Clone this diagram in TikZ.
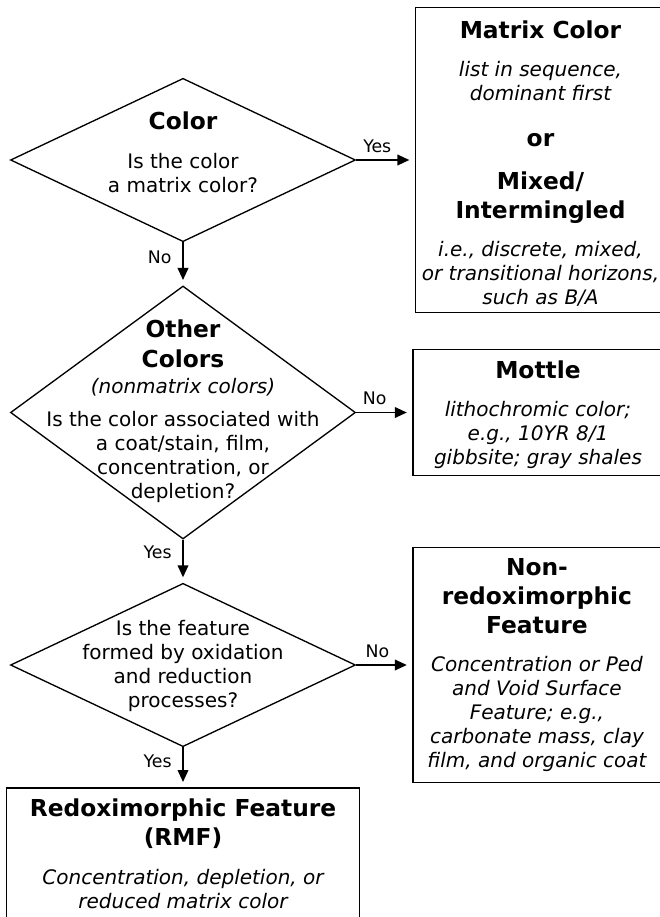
\documentclass[tikz,border=0pt]{standalone}
\usepackage{fontspec}
\setmainfont{DejaVu Sans}
\usepackage{tikz}
\usetikzlibrary{shapes,arrows.meta,positioning}
\newcommand{\bodyfont}{\fontsize{15}{18}\selectfont}
\newcommand{\headfont}{\fontsize{17.5}{22}\selectfont\bfseries}
\newcommand{\topgap}[1]{\rule{0pt}{#1}}
\newcommand{\botgap}[1]{\rule[-#1]{0pt}{#1}}
\tikzstyle{decision} = [diamond, draw=black, line width=1pt, inner sep=0pt, minimum width=258.75pt, minimum height=122.5pt]
\tikzstyle{question} = [align=center, inner sep=0pt, font=\bodyfont]
\tikzstyle{answer} = [rectangle, draw=black, line width=1.2pt, align=center, inner sep=0pt, minimum width=187.5pt, font=\bodyfont]
\tikzstyle{tedge}  = [draw, line width=1.2pt, >={Triangle[length=9pt,width=8pt]}, ->, shorten >=4pt]
\tikzstyle{yesno} = [font=\fontsize{13}{15}\selectfont, inner sep=2pt]

\begin{document}
\begin{tikzpicture}
\useasboundingbox (0,0) rectangle (495pt,-687.75pt);

% decisions =============================
\node[decision] (color) at (137.25pt,-120pt) {};
\node[decision, below=32.25pt of color, minimum height=189.75pt] (other) {};
\node[decision, below=32.25pt of other] (redox) {};

% questions
\node[question, yshift=5.6pt] (colorq) at (color) {{\headfont Color}\\[11pt]Is the color\\a matrix color?};
\node[question, yshift=0.75pt] (otherq) at (other) {{\headfont Other}\\[4pt]{\headfont Colors}\\[2pt]{\itshape (nonmatrix colors)}\\[6.75pt]Is the color associated with\\a coat/stain, film,\\concentration, or\\depletion?};
\node[question, yshift=-0.5pt] (redoxq) at (redox) {Is the feature\\formed by oxidation\\and reduction\\processes?};

% answers
\node[answer, right=42pt of color, minimum height=228.75pt, xshift=1.9pt] (matrix) {\topgap{19pt}{\headfont Matrix Color}\\[10.6pt]{\itshape list in sequence,}\\{\itshape dominant first}\\[16pt]{\headfont or}\\[14.25pt]{\headfont Mixed/}\\[4pt]{\headfont Intermingled}\\[10.6pt]{\itshape i.e., discrete, mixed,}\\{\itshape or transitional horizons,}\\{\itshape such as B/A}};
\node[answer, right=42pt of other, minimum height=94.5pt] (mottle) {\topgap{16.5pt}{\headfont Mottle}\\[10.6pt]{\itshape lithochromic color;}\\{\itshape e.g., 10YR 8/1}\\{\itshape gibbsite; gray shales}};
\node[answer, right=42pt of redox, minimum height=176.25pt, minimum width=186pt] (nonredox) {{\headfont Non-}\\[4pt]{\headfont redoximorphic}\\[4pt]{\headfont Feature}\\[10.6pt]{\itshape Concentration or Ped}\\{\itshape and Void Surface}\\{\itshape Feature; e.g.,}\\{\itshape carbonate mass, clay}\\{\itshape film, and organic coat}};
\node[answer, below=30pt of redox, minimum width=265pt, minimum height=102pt] (rmf) {{\headfont Redoximorphic Feature}\\[4pt]{\headfont (RMF)}\\[10.6pt]{\itshape Concentration, depletion, or}\\{\itshape reduced matrix color}\botgap{4pt}};

%edges
\path[tedge] (color) -- node[yesno, above=3pt, pos=.36] (yes1) {Yes} (matrix);
\path[tedge] (color) -- node[yesno, left=6pt, pos=.35] (no1) {No} (other);
\path[tedge] (other) -- node[yesno, above=3pt, pos=.33] (no2) {No} (mottle);
\path[tedge] (other) -- node[yesno, left=6pt, pos=.3] (yes2) {Yes} (redox);
\path[tedge] (redox) -- node[yesno, above=3pt, pos=.38] (no3) {No} (nonredox);
\path[tedge] (redox) -- node[yesno, left=6pt, pos=.35] (yes3) {Yes} (rmf);

\end{tikzpicture}
\end{document}
